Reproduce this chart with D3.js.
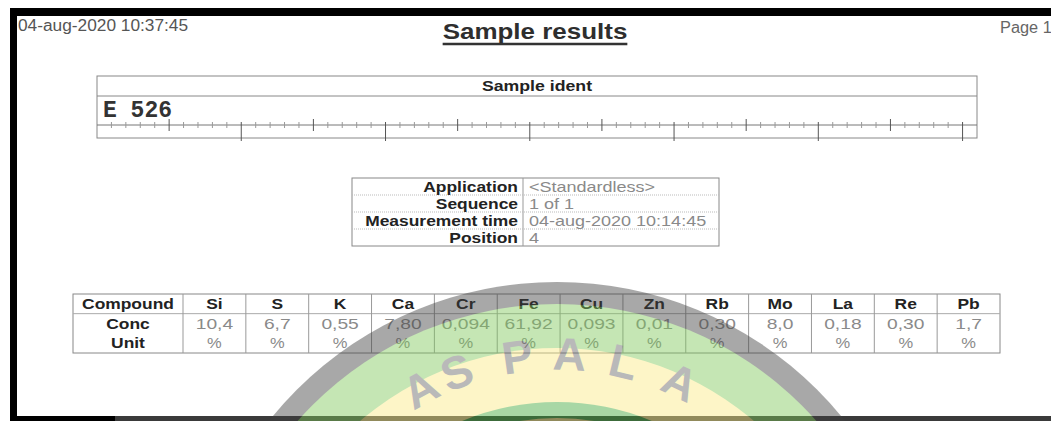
<!DOCTYPE html>
<html>
<head>
<meta charset="utf-8">
<script src="https://cdn.jsdelivr.net/npm/d3@7"></script>
<style>
    body { margin: 0; background: #fff; }
    svg { display: block; }
</style>
</head>
<body>
<script>
(function(){
    // report texts
    var reportDate = "04-aug-2020 10:37:45";
    var reportTitle = "Sample results";
    var pageLabel = "Page 1";
    var identTitle = "Sample ident";
    var sampleIdent = "E 526";

    // info table
    var infoLabels = ["Application", "Sequence", "Measurement time", "Position"];
    var infoValues = ["<Standardless>", "1 of 1", "04-aug-2020 10:14:45", "4"];

    // compound table
    var rowLabels = ["Compound", "Conc", "Unit"];
    var compounds = ["Si", "S", "K", "Ca", "Cr", "Fe", "Cu", "Zn", "Rb", "Mo", "La", "Re", "Pb"];
    var concValues = ["10,4", "6,7", "0,55", "7,80", "0,094", "61,92", "0,093", "0,01", "0,30", "8,0", "0,18", "0,30", "1,7"];
    var unitValues = ["%", "%", "%", "%", "%", "%", "%", "%", "%", "%", "%", "%", "%"];

    // watermark letters (stamp behind the page)
    var stampLetters = ["A", "S", "P", "A", "L", "A"];
    var stampAngles = [-28.5, -20.5, -8, 2.5, 13.5, 25.5];

    var width = 1051,
        height = 421,
        font = "'Liberation Sans', Arial, sans-serif";

    var svg = d3.select("body")
        .append("svg")
        .attr("width", width)
        .attr("height", height);

    svg.append("rect")
        .attr("width", width)
        .attr("height", height)
        .attr("fill", "#fff");

    // the scan is a bit wider than tall, so text gets stretched sideways
    function stretch(sel, k){
        sel.each(function(){
            var len = this.getComputedTextLength();
            d3.select(this)
                .attr("textLength", len * k)
                .attr("lengthAdjust", "spacingAndGlyphs");
        });
    }

    drawFrame();
    drawHeader();
    drawIdent();
    drawInfo();
    drawCompounds();
    drawStamp();

    function drawFrame(){
        svg.append("rect")
            .attr("x", 10).attr("y", 8)
            .attr("width", width - 10).attr("height", 8)
            .attr("fill", "#000");
        svg.append("rect")
            .attr("x", 10).attr("y", 8)
            .attr("width", 7).attr("height", height - 8)
            .attr("fill", "#000");
        svg.append("rect")
            .attr("x", 10).attr("y", 416)
            .attr("width", width - 10).attr("height", 5)
            .attr("fill", "#3a3a3a");
        svg.append("rect")
            .attr("x", 10).attr("y", 416)
            .attr("width", 105).attr("height", 5)
            .attr("fill", "#000");
    }

    function drawHeader(){
        svg.append("text")
            .attr("x", 18).attr("y", 31)
            .attr("font-family", font)
            .attr("font-size", 16)
            .attr("fill", "#555")
            .text(reportDate)
            .call(stretch, 1.08);

        var t = svg.append("text")
            .attr("x", 535).attr("y", 39)
            .attr("text-anchor", "middle")
            .attr("font-family", font)
            .attr("font-size", 22)
            .attr("font-weight", "bold")
            .attr("fill", "#2e2e2e")
            .text(reportTitle)
            .call(stretch, 1.18);

        var bb = t.node().getBBox();
        svg.append("line")
            .attr("x1", bb.x).attr("x2", bb.x + bb.width)
            .attr("y1", 44).attr("y2", 44)
            .attr("stroke", "#333")
            .attr("stroke-width", 2.5);

        svg.append("text")
            .attr("x", 1000).attr("y", 33)
            .attr("font-family", font)
            .attr("font-size", 16)
            .attr("fill", "#666")
            .text(pageLabel)
            .call(stretch, 1.02);
    }

    function drawIdent(){
        var x0 = 97, x1 = 977, yTop = 76, yMid = 96, yBot = 138, yRule = 125;
        var g = svg.append("g").attr("class", "ident");

        g.append("rect")
            .attr("x", x0).attr("y", yTop)
            .attr("width", x1 - x0).attr("height", yBot - yTop)
            .attr("fill", "none")
            .attr("stroke", "#888");
        g.append("line")
            .attr("x1", x0).attr("x2", x1)
            .attr("y1", yMid).attr("y2", yMid)
            .attr("stroke", "#888");

        g.append("text")
            .attr("x", (x0 + x1) / 2).attr("y", 91)
            .attr("text-anchor", "middle")
            .attr("font-family", font)
            .attr("font-size", 15)
            .attr("font-weight", "bold")
            .attr("fill", "#222")
            .text(identTitle)
            .call(stretch, 1.18);

        g.append("text")
            .attr("x", 103).attr("y", 117)
            .attr("font-family", "'Courier New', 'Liberation Mono', monospace")
            .attr("font-size", 23)
            .attr("font-weight", "bold")
            .attr("fill", "#333")
            .text(sampleIdent);

        // ruler under the ident
        var ruler = d3.scaleLinear().domain([0, 61]).range([x0, x1]);
        g.append("line")
            .attr("x1", x0).attr("x2", x1)
            .attr("y1", yRule).attr("y2", yRule)
            .attr("stroke", "#777");

        g.selectAll(".tick")
            .data(d3.range(1, 61))
            .enter()
            .append("line")
            .attr("class", "tick")
            .attr("x1", d => ruler(d)).attr("x2", d => ruler(d))
            .attr("y1", d => d % 10 === 0 ? 122 : (d % 5 === 0 ? 119 : 122))
            .attr("y2", d => d % 10 === 0 ? 141 : (d % 5 === 0 ? 131 : 128))
            .attr("stroke", d => d % 5 === 0 ? "#555" : "#999")
            .attr("stroke-width", 1);
    }

    function drawInfo(){
        var x0 = 352, xs = 523, x1 = 719, yTop = 178, yBot = 246;
        var rows = d3.scaleBand().domain(infoLabels).range([yTop, yBot]);
        var g = svg.append("g").attr("class", "info");

        g.append("rect")
            .attr("x", x0).attr("y", yTop)
            .attr("width", x1 - x0).attr("height", yBot - yTop)
            .attr("fill", "none")
            .attr("stroke", "#888");
        g.append("line")
            .attr("x1", xs).attr("x2", xs)
            .attr("y1", yTop).attr("y2", yBot)
            .attr("stroke", "#999");

        g.selectAll(".sep")
            .data(infoLabels.slice(1))
            .enter()
            .append("line")
            .attr("class", "sep")
            .attr("x1", x0).attr("x2", x1)
            .attr("y1", d => rows(d)).attr("y2", d => rows(d))
            .attr("stroke", "#bbb")
            .attr("stroke-dasharray", "1,1");

        g.selectAll(".lab")
            .data(infoLabels)
            .enter()
            .append("text")
            .attr("class", "lab")
            .attr("x", xs - 5)
            .attr("y", d => rows(d) + rows.bandwidth() / 2 + 5)
            .attr("text-anchor", "end")
            .attr("font-family", font)
            .attr("font-size", 15)
            .attr("font-weight", "bold")
            .attr("fill", "#222")
            .text(d => d)
            .call(stretch, 1.16);

        g.selectAll(".val")
            .data(infoValues)
            .enter()
            .append("text")
            .attr("class", "val")
            .attr("x", xs + 6)
            .attr("y", (d, i) => rows(infoLabels[i]) + rows.bandwidth() / 2 + 5)
            .attr("font-family", font)
            .attr("font-size", 15)
            .attr("fill", "#8a8a8a")
            .text(d => d)
            .call(stretch, 1.2);
    }

    function drawCompounds(){
        var x0 = 73, xs = 183, x1 = 1000, yTop = 294, yBot = 353;
        var cols = d3.scaleBand().domain(compounds).range([xs, x1]);
        var rows = d3.scaleBand().domain(rowLabels).range([yTop, yBot]);
        var g = svg.append("g").attr("class", "compounds");

        g.append("rect")
            .attr("x", x0).attr("y", yTop)
            .attr("width", x1 - x0).attr("height", yBot - yTop)
            .attr("fill", "none")
            .attr("stroke", "#888");
        g.append("line")
            .attr("x1", x0).attr("x2", x1)
            .attr("y1", rows("Conc")).attr("y2", rows("Conc"))
            .attr("stroke", "#aaa");

        g.selectAll(".col")
            .data(compounds)
            .enter()
            .append("line")
            .attr("class", "col")
            .attr("x1", d => cols(d)).attr("x2", d => cols(d))
            .attr("y1", yTop).attr("y2", yBot)
            .attr("stroke", "#999");

        g.selectAll(".rowLab")
            .data(rowLabels)
            .enter()
            .append("text")
            .attr("class", "rowLab")
            .attr("x", (x0 + xs) / 2)
            .attr("y", d => rows(d) + rows.bandwidth() / 2 + 5)
            .attr("text-anchor", "middle")
            .attr("font-family", font)
            .attr("font-size", 15)
            .attr("font-weight", "bold")
            .attr("fill", "#222")
            .text(d => d)
            .call(stretch, 1.16);

        var cellRows = [
            {key: "Compound", vals: compounds, bold: true, fill: "#222", k: 1.16},
            {key: "Conc", vals: concValues, bold: false, fill: "#8a8a8a", k: 1.28},
            {key: "Unit", vals: unitValues, bold: false, fill: "#8a8a8a", k: 1.1}
        ];

        cellRows.forEach(function(r){
            g.selectAll(".cell-" + r.key)
                .data(r.vals)
                .enter()
                .append("text")
                .attr("class", "cell-" + r.key)
                .attr("x", (d, i) => cols(compounds[i]) + cols.bandwidth() / 2)
                .attr("y", rows(r.key) + rows.bandwidth() / 2 + 5)
                .attr("text-anchor", "middle")
                .attr("font-family", font)
                .attr("font-size", 15)
                .attr("font-weight", r.bold ? "bold" : "normal")
                .attr("fill", r.fill)
                .text(d => d)
                .call(stretch, r.k);
        });
    }

    function drawStamp(){
        var cx = 557, cy = 650;
        var g = svg.append("g")
            .attr("class", "stamp")
            .attr("opacity", 0.45);

        g.append("circle")
            .attr("cx", cx).attr("cy", cy).attr("r", 368)
            .attr("fill", "#404040");
        g.append("circle")
            .attr("cx", cx).attr("cy", cy).attr("r", 346)
            .attr("fill", "#7fc85b");
        g.append("circle")
            .attr("cx", cx).attr("cy", cy).attr("r", 302)
            .attr("fill", "#fbeb85");
        g.append("circle")
            .attr("cx", cx).attr("cy", cy).attr("r", 248)
            .attr("fill", "#3fa83a");
        g.append("circle")
            .attr("cx", cx).attr("cy", cy).attr("r", 232)
            .attr("fill", "#fbeb85");

        // letters sit on a slightly higher arc than the rings
        var lcy = cy - 10, r = 286;
        g.selectAll(".letter")
            .data(stampLetters)
            .enter()
            .append("text")
            .attr("class", "letter")
            .attr("transform", function(d, i){
                var a = stampAngles[i] * Math.PI / 180;
                return "translate(" + (cx + r * Math.sin(a)) + "," + (lcy - r * Math.cos(a)) + ") rotate(" + stampAngles[i] + ")";
            })
            .attr("text-anchor", "middle")
            .attr("dominant-baseline", "central")
            .attr("font-family", font)
            .attr("font-size", 46)
            .attr("font-weight", "bold")
            .attr("fill", "#666")
            .text(d => d);
    }
})();
</script>
</body>
</html>
